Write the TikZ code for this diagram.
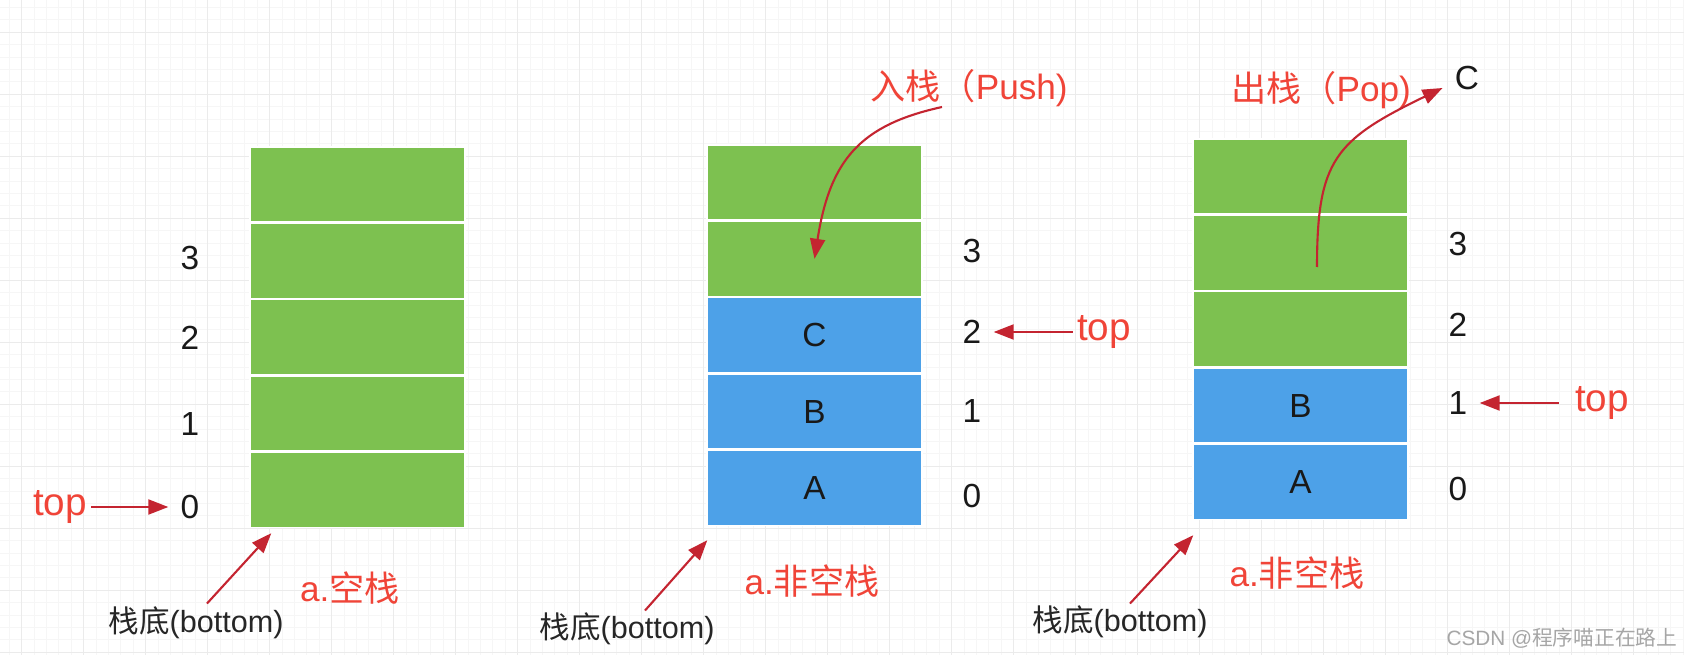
\documentclass[tikz,border=0pt]{standalone}
\usepackage{fontspec}
\setmainfont{Liberation Sans}
\newfontfamily\cjk{Noto Sans CJK SC}
\usetikzlibrary{positioning,arrows.meta}
\definecolor{cellGreen}{RGB}{125,193,80}
\definecolor{cellBlue}{RGB}{77,161,232}
\definecolor{labelRed}{RGB}{240,68,56}
\definecolor{arrowRed}{RGB}{196,36,48}
\colorlet{gridMinor}{gray!7}
\colorlet{gridMajor}{gray!16}
\tikzset{>={Triangle[length=2mm,width=1.5mm]}}
\tikzset{
  cell/.style={draw=white,line width=0.4pt,minimum width=21.5mm,minimum height=7.5mm,inner sep=0pt,text=black!90,font=\fontsize{9.5}{11}\selectfont},
  cellg/.style={cell,fill=cellGreen},
  cellb/.style={cell,fill=cellBlue},
  idx/.style={text=black!90,font=\fontsize{9.5}{11}\selectfont},
  toplbl/.style={text=labelRed,inner sep=1pt,font=\fontsize{11}{13}\selectfont},
  caption/.style={text=labelRed,font=\fontsize{10}{12}\selectfont},
  botlbl/.style={text=black!85,font=\fontsize{8.7}{10}\selectfont},
  ptr/.style={->,arrowRed,line width=0.6pt},
}

\begin{document}
\begin{tikzpicture}[x=0.1mm,y=-0.1mm]
  \useasboundingbox (0,0) rectangle (1684,655);
  \fill[white] (0,0) rectangle (1684,655);
  % grid paper
  \begin{scope}
    \clip (0,0) rectangle (1684,655);
    \draw[gridMinor,line width=0.25pt,step=1.24mm,shift={(9.3,7.5)}] (-20,680) grid (1700,-20);
    \draw[gridMajor,line width=0.3pt,step=6.2mm,shift={(21.7,32.3)}] (-30,700) grid (1700,-40);
  \end{scope}

  % a. empty stack
  \node[cellg] (L0) at (357.5,490) {};
  \foreach \i/\j in {0/1,1/2,2/3,3/4}
    \node[cellg,above=0pt of L\i] (L\j) {};
  \foreach \n/\y in {0/507,1/424,2/338,3/258}
    \node[idx] (li\n) at (190,\y) {\n};
  \node[toplbl] (ltop) at (60,507) {top};
  \draw[ptr] (ltop.east) -- (li0.west);
  \node[caption] (lcap) at (350,588) {a.{\cjk 空栈}};
  \node[botlbl] (lbot) at (196,623) {{\cjk 栈底}(bottom)};
  \draw[ptr] ([shift={(1.1mm,-0.9mm)}]lbot.north) -- ([shift={(2.2mm,-0.5mm)}]L0.south west);

  % push
  \node[cellb] (M0) at (814.5,488) {A};
  \node[cellb,above=0pt of M0] (M1) {B};
  \node[cellb,above=0pt of M1] (M2) {C};
  \node[cellg,above=0pt of M2] (M3) {};
  \node[cellg,above=0pt of M3] (M4) {};
  \foreach \n/\y in {0/496,1/411,2/332,3/251}
    \node[idx] (mi\n) at (972,\y) {\n};
  \node[toplbl] (mtop) at (1104,332) {top};
  \draw[ptr] (mtop.west) -- (mi2.east);
  \node[caption] (mcap) at (812,581) {a.{\cjk 非空栈}};
  \node[botlbl] (mbot) at (627,629) {{\cjk 栈底}(bottom)};
  \draw[ptr] ([shift={(1.8mm,-1mm)}]mbot.north) -- ([shift={(0.1mm,-1.4mm)}]M0.south west);
  \node[caption] (push) at (969,88) {{\cjk 入栈（}Push)};
  \coordinate (pushfrom) at (942,107);
  \draw[ptr] (pushfrom) .. controls (860,125) and (830,160) .. (M3.center);

  % pop
  \node[cellb] (R0) at (1300.5,482) {A};
  \node[cellb,above=0pt of R0] (R1) {B};
  \node[cellg,above=0pt of R1] (R2) {};
  \node[cellg,above=0pt of R2] (R3) {};
  \node[cellg,above=0pt of R3] (R4) {};
  \foreach \n/\y in {0/489,1/403,2/325,3/244}
    \node[idx] (ri\n) at (1458,\y) {\n};
  \node[toplbl] (rtop) at (1602,403) {top};
  \draw[ptr] ([xshift=-1.2mm]rtop.west) -- (ri1.east);
  \node[caption] (rcap) at (1297,573) {a.{\cjk 非空栈}};
  \node[botlbl] (rbot) at (1120,622) {{\cjk 栈底}(bottom)};
  \draw[ptr] ([shift={(1mm,-1mm)}]rbot.north) -- ([shift={(0.1mm,-1.5mm)}]R0.south west);
  \node[caption] (pop) at (1321,90) {{\cjk 出栈（}Pop)};
  \node[idx] (popped) at (1467,78) {C};
  \coordinate (popfrom) at (1317,267);
  \draw[ptr] (popfrom) .. controls (1317,160) and (1335,140) .. ([yshift=-1mm]popped.west);

  \node[text=gray!70,font=\fontsize{5.9}{7}\selectfont] (mark) at (1562,638) {CSDN @{\cjk 程序喵正在路上}};
\end{tikzpicture}
\end{document}
